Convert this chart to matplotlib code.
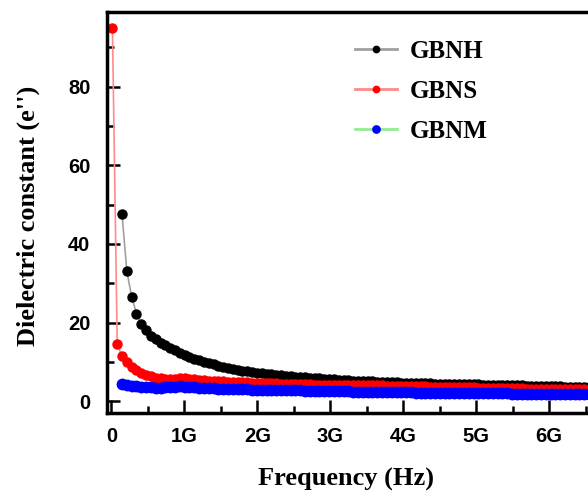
import numpy as np
import matplotlib
matplotlib.use("Agg")
import matplotlib.pyplot as plt
from matplotlib.ticker import MultipleLocator

# frequency sweep (GHz): 101 points, 66 MHz step
freq_ghz = np.round(0.014 + 0.066 * np.arange(101), 3)

# GBNH starts at the third sweep point
gbnh = [
    47.5, 33.0, 26.6, 22.3, 19.7, 18.0, 16.7, 15.7, 14.9, 14.2,
    13.5, 12.9, 12.3, 11.7, 11.2, 10.8, 10.4, 10.0, 9.7, 9.35,
    9.05, 8.75, 8.5, 8.25, 8.0, 7.8, 7.6, 7.4, 7.25, 7.1,
    6.95, 6.8, 6.7, 6.55, 6.45, 6.35, 6.25, 6.15, 6.05, 5.95,
    5.9, 5.8, 5.7, 5.6, 5.55, 5.45, 5.4, 5.35, 5.25, 5.2,
    5.15, 5.1, 5.05, 5.0, 4.95, 4.9, 4.85, 4.8, 4.75, 4.7,
    4.7, 4.65, 4.6, 4.6, 4.55, 4.5, 4.5, 4.45, 4.4, 4.4,
    4.35, 4.35, 4.3, 4.25, 4.25, 4.2, 4.2, 4.15, 4.1, 4.1,
    4.05, 4.05, 4.0, 4.0, 3.95, 3.95, 3.9, 3.85, 3.85, 3.8,
    3.8, 3.75, 3.7, 3.7, 3.65, 3.6, 3.6, 3.55, 3.5,
]

gbns = [
    95.0, 14.6, 11.4, 9.9, 8.8, 7.9, 7.2, 6.7, 6.3, 6.0,
    5.85, 5.75, 5.7, 5.75, 5.85, 5.8, 5.7, 5.55, 5.45, 5.35,
    5.25, 5.15, 5.1, 5.05, 5.0, 4.95, 4.9, 4.85, 4.8, 4.75,
    4.7, 4.65, 4.6, 4.6, 4.55, 4.5, 4.5, 4.45, 4.4, 4.35,
    4.3, 4.25, 4.2, 4.15, 4.1, 4.1, 4.1, 4.15, 4.15, 4.2,
    4.2, 4.2, 4.2, 4.15, 4.1, 4.05, 4.0, 3.95, 3.95, 3.9,
    3.85, 3.85, 3.8, 3.8, 3.75, 3.75, 3.7, 3.7, 3.65, 3.65,
    3.6, 3.6, 3.55, 3.55, 3.5, 3.5, 3.45, 3.45, 3.4, 3.4,
    3.35, 3.35, 3.3, 3.3, 3.25, 3.25, 3.2, 3.2, 3.2, 3.15,
    3.15, 3.1, 3.1, 3.1, 3.05, 3.05, 3.0, 3.0, 3.0, 2.95,
    2.95,
]

gbnm = [
    4.4, 4.1, 3.9, 3.75, 3.65, 3.55, 3.5, 3.45, 3.45, 3.5,
    3.6, 3.7, 3.75, 3.7, 3.6, 3.5, 3.4, 3.35, 3.3, 3.25,
    3.2, 3.15, 3.1, 3.1, 3.05, 3.0, 3.0, 2.95, 2.95, 2.9,
    2.9, 2.9, 2.85, 2.85, 2.8, 2.8, 2.8, 2.75, 2.7, 2.7,
    2.65, 2.6, 2.6, 2.55, 2.55, 2.5, 2.5, 2.5, 2.45, 2.45,
    2.4, 2.4, 2.4, 2.35, 2.35, 2.3, 2.3, 2.3, 2.25, 2.25,
    2.25, 2.2, 2.2, 2.2, 2.2, 2.15, 2.15, 2.15, 2.15, 2.1,
    2.1, 2.1, 2.1, 2.1, 2.05, 2.05, 2.05, 2.0, 2.0, 2.0,
    2.0, 1.95, 1.95, 1.95, 1.95, 1.9, 1.9, 1.9, 1.9, 1.85,
    1.85, 1.85, 1.85, 1.8, 1.8, 1.8, 1.8, 1.75, 1.75,
]

xtick_vals = [0, 1, 2, 3, 4, 5, 6]
xtick_labels = ["0", "1G", "2G", "3G", "4G", "5G", "6G"]
ytick_vals = [0, 20, 40, 60, 80]

serif = "Liberation Serif"
sans = "Liberation Sans"

fig = plt.figure(figsize=(5.88, 4.98), dpi=100)
# right edge runs past the figure, so the plot is cut off on that side
ax = fig.add_axes([0.182, 0.1707, 0.876, 0.8052])

ax.plot(freq_ghz[2:], gbnh, color="#a0a0a0", lw=1.2, marker="o", ms=6.5,
        mfc="black", mec="black", label="GBNH")
ax.plot(freq_ghz, gbns, color="#ff8a8a", lw=1.2, marker="o", ms=6.5,
        mfc="red", mec="red", label="GBNS")
ax.plot(freq_ghz[2:], gbnm, color="#90ee90", lw=1.2, marker="o", ms=7.5,
        mfc="blue", mec="blue", label="GBNM")

ax.set_xlim(-0.06, 7.0)
ax.set_ylim(-3, 99)
ax.set_xticks(xtick_vals)
ax.set_xticklabels(xtick_labels)
ax.set_yticks(ytick_vals)
ax.xaxis.set_minor_locator(MultipleLocator(0.5))
ax.yaxis.set_minor_locator(MultipleLocator(10))

for side in ["left", "bottom", "top", "right"]:
    ax.spines[side].set_linewidth(2.5)

ax.tick_params(which="both", direction="in", top=False, right=False,
               width=1.8, labelsize=14.5, colors="black")
ax.tick_params(which="major", length=9.5)
ax.tick_params(which="minor", length=5)
ax.tick_params(axis="y", pad=12)
ax.tick_params(axis="x", pad=10)
for lbl in ax.get_xticklabels() + ax.get_yticklabels():
    lbl.set_fontfamily(sans)
    lbl.set_fontweight("bold")

ax.set_xlabel("Frequency (Hz)", family=serif, fontweight="bold", fontsize=19)
ax.xaxis.set_label_coords(346 / 588, 1 - 468 / 498, transform=fig.transFigure)
ylab = ax.set_ylabel("Dielectric constant (e'')", family=serif,
                     fontweight="bold", fontsize=19)
ylab.set_verticalalignment("center")
ax.yaxis.set_label_coords(28 / 588, 1 - 216 / 498, transform=fig.transFigure)

leg = ax.legend(loc="upper left", bbox_to_anchor=(355 / 588, 1 - 40 / 498),
                bbox_transform=fig.transFigure, frameon=False,
                prop={"family": serif, "weight": "bold", "size": 18},
                handlelength=1.7, handletextpad=0.5, labelspacing=0.68,
                borderpad=0, borderaxespad=0, markerscale=0.7)
for h in leg.legend_handles:
    h.set_linewidth(2)

fig.savefig("out.png", dpi=100)
